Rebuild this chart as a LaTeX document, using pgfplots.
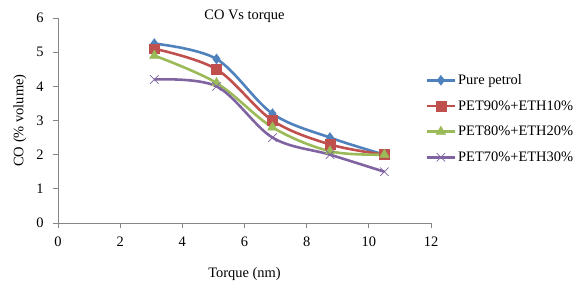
\documentclass[border=0pt]{standalone}
\usepackage{fontspec}
\setmainfont{Liberation Serif}
\usepackage{pgfplots}
\pgfplotsset{compat=1.18}
\definecolor{cblue}{HTML}{4F81BD}
\definecolor{cred}{HTML}{C0504D}
\definecolor{cgreen}{HTML}{9BBB59}
\definecolor{cpurple}{HTML}{8064A2}
\definecolor{axgray}{HTML}{868686}
\newcommand{\fs}{\fontsize{14.5}{17}\selectfont}
\begin{document}
\begin{tikzpicture}
\path[use as bounding box] (-58bp,-64bp) rectangle (529bp,223bp);
\begin{axis}[
  at={(0,0)}, anchor=south west,
  scale only axis, width=373bp, height=205bp,
  xmin=0, xmax=12, ymin=0, ymax=6,
  xtick={0,2,...,12}, ytick={0,1,...,6},
  axis lines*=left, axis line style={-, draw=axgray, line width=0.8pt},
  tick align=outside, major tick length=5bp,
  tick style={draw=axgray, line width=0.8pt},
  /pgf/number format/assume math mode=true,
  tick label style={font=\fs},
  xticklabel style={yshift=-5bp},
  yticklabel style={xshift=-6bp},
  xlabel={Torque (nm)}, ylabel={CO (\% volume)},
  label style={font=\fs},
  xlabel style={at={(axis description cs:0.5,-0.249)}, anchor=center},
  ylabel style={at={(axis description cs:-0.102,0.5)}, anchor=center},
  legend style={draw=none, fill=none, at={(rel axis cs:0.985,0.735)}, anchor=north west,
    font=\fs, row sep=10.5bp, legend cell align=left, inner sep=0pt},
  legend image code/.code={\draw[#1, mark repeat=2, mark phase=2, sharp plot] plot coordinates {(0bp,0bp) (14bp,0bp) (28bp,0bp)};},
  every axis plot/.append style={line width=2.6pt, smooth, tension=0.55},
  clip=false,
]
\addplot[cblue, mark=diamond*, mark size=5pt, mark options={solid, line width=0.5pt}]
  coordinates {(3.1,5.25) (5.1,4.8) (6.9,3.2) (8.75,2.5) (10.5,2.0)};
\addlegendentry{Pure petrol}
\addplot[cred, mark=square*, mark size=5pt, mark options={solid, line width=0.5pt}]
  coordinates {(3.1,5.1) (5.1,4.5) (6.9,3.0) (8.75,2.3) (10.5,2.0)};
\addlegendentry{PET90\%+ETH10\%}
\addplot[cgreen, mark=triangle*, mark size=5.5pt, mark options={solid, line width=0.5pt}]
  coordinates {(3.1,4.9) (5.1,4.1) (6.9,2.8) (8.75,2.1) (10.5,2.0)};
\addlegendentry{PET80\%+ETH20\%}
\addplot[cpurple, mark=x, mark size=6pt, mark options={solid, line width=0.7pt}]
  coordinates {(3.1,4.2) (5.1,4.0) (6.9,2.5) (8.75,2.0) (10.5,1.5)};
\addlegendentry{PET70\%+ETH30\%}
\node[font=\fs, anchor=base] at (rel axis cs:0.5,1) [yshift=-1bp] {CO Vs torque};
\end{axis}
\end{tikzpicture}
\end{document}
